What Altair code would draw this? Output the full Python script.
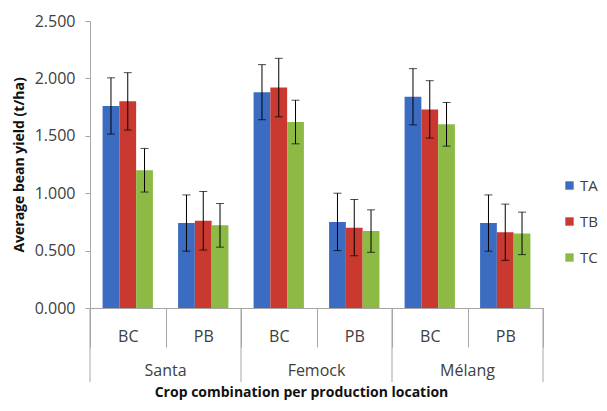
import altair as alt
import pandas as pd

locations = ["Santa", "Femock", "Mélang"]
combos = ["BC", "PB"]
treatments = ["TA", "TB", "TC"]
colors = ["#3B6CC1", "#C9392F", "#8DBA45"]

# order: Santa BC, Santa PB, Femock BC, Femock PB, Mélang BC, Mélang PB
yield_TA = [1.76, 0.74, 1.88, 0.75, 1.84, 0.74]
yield_TB = [1.80, 0.76, 1.92, 0.70, 1.73, 0.66]
yield_TC = [1.20, 0.72, 1.62, 0.67, 1.60, 0.65]
err_TA = [0.245, 0.245, 0.24, 0.25, 0.245, 0.245]
err_TB = [0.25, 0.255, 0.255, 0.245, 0.25, 0.245]
err_TC = [0.19, 0.19, 0.19, 0.185, 0.19, 0.185]

slots = [f"{loc} {c}" for loc in locations for c in combos]
rows = []
for t, ys, es in zip(treatments, [yield_TA, yield_TB, yield_TC], [err_TA, err_TB, err_TC]):
    for s, y, e in zip(slots, ys, es):
        rows.append({"slot": s, "treatment": t, "yield": y, "lo": y - e, "hi": y + e})
df = pd.DataFrame(rows)

boundaries = pd.DataFrame({"b": [0, 1, 2, 3]})
loc_df = pd.DataFrame({"pos": [0.5, 1.5, 2.5], "location": locations})

FONT = "Open Sans"

x_slot = alt.X(
    "slot:N", sort=slots,
    scale=alt.Scale(paddingInner=0, paddingOuter=0),
    axis=alt.Axis(
        title="Crop combination per production location",
        labelExpr="substring(datum.label, length(datum.label) - 2)",
        tickBand="extent", tickSize=39, labelPadding=-19, labelAngle=0,
        labelFontSize=16, labelColor="#404040", titleFontSize=14,
        titleFontWeight="bold", titleColor="#111111", titlePadding=38,
        titleX=211, titleAlign="center",
    ),
)
x_off = alt.XOffset("treatment:N", sort=treatments,
                    scale=alt.Scale(paddingInner=0, paddingOuter=0.75))
y_enc = alt.Y(
    "yield:Q", scale=alt.Scale(domain=[0, 2.5], nice=False),
    axis=alt.Axis(
        title="Average bean yield (t/ha)", values=[0, 0.5, 1, 1.5, 2, 2.5],
        format=".3f", tickSize=5, labelPadding=10, labelFontSize=16,
        labelColor="#404040", titleFontSize=14, titleFontWeight="bold",
        titleColor="#111111", titlePadding=8,
    ),
)

base = alt.Chart(df)
bars = base.mark_bar().encode(
    x=x_slot, xOffset=x_off, y=y_enc,
    color=alt.Color(
        "treatment:N", scale=alt.Scale(domain=treatments, range=colors),
        legend=alt.Legend(
            title=None, orient="none", legendX=472, legendY=157,
            symbolType="square", symbolSize=70, symbolStrokeWidth=0,
            labelFontSize=15, labelColor="#404040", rowPadding=20,
            labelFont=FONT, labelOffset=3,
        ),
    ),
)
err = base.mark_rule(color="black", strokeWidth=1).encode(
    x=x_slot, xOffset=x_off, y="lo:Q", y2="hi:Q")
cap_hi = base.mark_tick(color="black", size=8, thickness=1, orient="horizontal").encode(
    x=x_slot, xOffset=x_off, y="hi:Q")
cap_lo = base.mark_tick(color="black", size=8, thickness=1, orient="horizontal").encode(
    x=x_slot, xOffset=x_off, y="lo:Q")

main = alt.layer(bars, err, cap_hi, cap_lo)

x_q = alt.Scale(domain=[0, 3], nice=False, zero=False)
seps = alt.Chart(boundaries).mark_rule(color="#A6A6A6").encode(
    x=alt.X("b:Q", scale=x_q, axis=None),
    y=alt.value(287), y2=alt.value(361))
loc_text = alt.Chart(loc_df).mark_text(
    font=FONT, fontSize=16, color="#404040", baseline="middle").encode(
    x=alt.X("pos:Q", scale=x_q, axis=None),
    y=alt.value(350), text="location:N")
annot = alt.layer(seps, loc_text)

chart = alt.layer(main, annot).resolve_scale(x="independent").properties(
    width=453, height=287,
    autosize=alt.AutoSizeParams(type="none"),
    padding={"left": 82, "top": 13, "right": 56, "bottom": 95},
).configure_view(stroke=None).configure_axis(
    grid=False, domainColor="#A6A6A6", tickColor="#A6A6A6",
    labelFont=FONT, titleFont=FONT,
)

chart.save("out.html", embed_options={"renderer": "svg", "actions": False})
